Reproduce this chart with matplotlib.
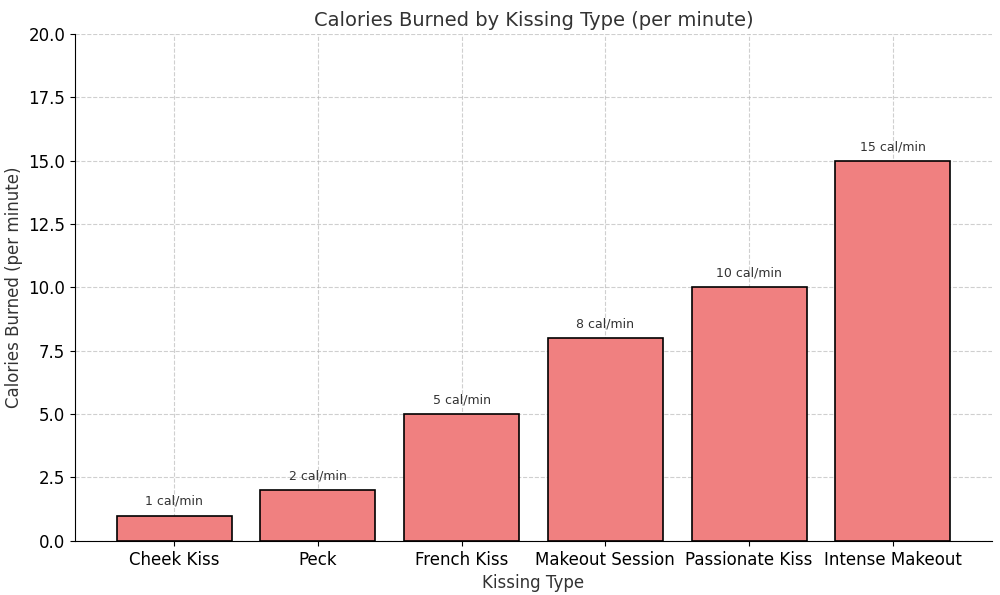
import matplotlib
matplotlib.use("Agg")
import matplotlib.pyplot as plt

categories = ["Cheek Kiss", "Peck", "French Kiss", "Makeout Session", "Passionate Kiss", "Intense Makeout"]
values = [1, 2, 5, 8, 10, 15]

fig = plt.figure(figsize=(10, 5.95), dpi=100)
ax = fig.add_axes([0.075, 0.091, 0.917, 0.852])
bars = ax.bar(categories, values, color="lightcoral", edgecolor="black", linewidth=1.2)
for b, v in zip(bars, values):
    ax.text(b.get_x() + b.get_width() / 2, v + 0.3, f"{v} cal/min", ha="center", va="bottom", fontsize=9, color="#333333")
ax.set_ylim(0, 20)
ax.set_yticks([0, 2.5, 5, 7.5, 10, 12.5, 15, 17.5, 20])
ax.grid(True, linestyle="--", alpha=0.6)
ax.set_axisbelow(True)
ax.set_title("Calories Burned by Kissing Type (per minute)", fontsize=14, color="#333333")
ax.set_xlabel("Kissing Type", fontsize=12, color="#333333")
ax.set_ylabel("Calories Burned (per minute)", fontsize=12, color="#333333")
ax.tick_params(labelsize=12)
for s in ["top", "right"]:
    ax.spines[s].set_visible(False)
fig.savefig("out.png", dpi=100)
